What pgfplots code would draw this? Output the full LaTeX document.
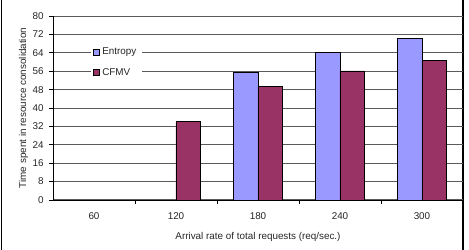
\documentclass[border=0pt]{standalone}
\usepackage{fontspec}
\setmainfont{Liberation Sans}
\usepackage{pgfplots}
\pgfplotsset{compat=1.18}
\definecolor{entropy}{RGB}{153,153,255}
\definecolor{cfmv}{RGB}{153,51,102}
\definecolor{gridc}{RGB}{90,90,90}
\begin{document}
\begin{tikzpicture}
\useasboundingbox (0pt,0pt) rectangle (351.75pt,187.5pt);
\draw[line width=1.1pt] (1.1pt,0pt) -- (1.1pt,187.5pt);
\draw[line width=1.1pt] (347.2pt,0pt) -- (347.2pt,187.5pt);
\begin{axis}[
  at={(39.75pt,37.5pt)}, anchor=south west,
  scale only axis, width=307.5pt, height=138pt,
  xmin=-0.5, xmax=4.5, ymin=0, ymax=80,
  axis lines=left, axis line style={-, line width=0.6pt, black},
  ybar, bar width=0.3,
  xtick={0,1,2,3,4}, xticklabels={60,120,180,240,300},
  major x tick style={draw=none},
  minor xtick={0.5,1.5,2.5,3.5},
  minor tick length=3pt,
  minor x tick style={black, line width=0.6pt},
  ytick={0,8,...,80},
  major tick length=3pt,
  tick align=outside,
  y tick style={black, line width=0.6pt},
  ymajorgrids, grid style={gridc, line width=0.75pt},
  /pgf/number format/assume math mode=true,
  tick label style={font=\fontsize{7.4}{8.8}\selectfont, text=black!85},
  yticklabel style={xshift=-0.5pt},
  xticklabel style={yshift=-3pt},
  label style={font=\fontsize{7.4}{8.8}\selectfont, text=black!85},
  xlabel={Arrival rate of total requests (req/sec.)},
  ylabel={Time spent in resource consolidation},
  xlabel style={yshift=-2.5pt},
  ylabel style={yshift=-3.5pt},
  legend style={at={(rel axis cs:0.154,0.747)}, anchor=center, draw=none, fill=white,
    font=\fontsize{7.4}{8.8}\selectfont, text=black!85, row sep=4.4pt, inner xsep=2pt, inner ysep=1pt},
  legend cell align=left,
  legend image code/.code={\draw[#1, line width=0.4pt] (0pt,-2.2pt) rectangle (4.4pt,2.2pt);},
]
\addplot[fill=entropy, draw=black, line width=0.5pt, bar shift=-0.15] coordinates {(2,55.4) (3,64.3) (4,70.2)};
\addplot[fill=cfmv, draw=black, line width=0.5pt, bar shift=0.15] coordinates {(1,34.0) (2,49.3) (3,56.1) (4,60.8)};
\legend{Entropy, CFMV}
\end{axis}
\end{tikzpicture}
\end{document}
